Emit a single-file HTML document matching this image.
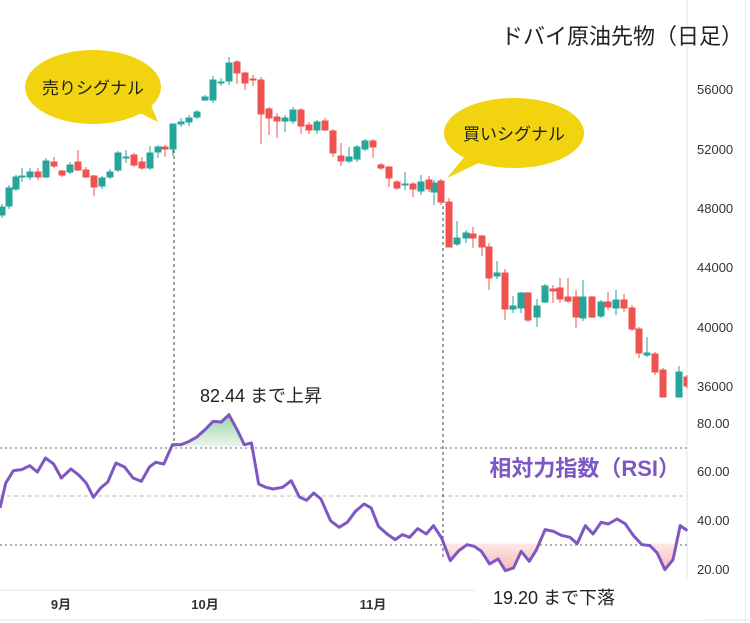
<!DOCTYPE html>
<html><head><meta charset="utf-8"><style>
html,body{margin:0;padding:0;background:#fff;}
svg{display:block;font-family:"Liberation Sans","Noto Sans CJK JP",sans-serif;}
</style></head><body>
<svg width="750" height="623" viewBox="0 0 750 623" xmlns="http://www.w3.org/2000/svg">
<rect width="750" height="623" fill="#fff"/>
<line x1="687" y1="0" x2="687" y2="590" stroke="#e6e6e6"/>
<line x1="745" y1="0" x2="745" y2="623" stroke="#eee"/>
<line x1="0" y1="590" x2="687" y2="590" stroke="#e6e6e6"/>
<line x1="0" y1="620" x2="750" y2="620" stroke="#e6e6e6"/>
<line x1="0" y1="448" x2="687" y2="448" stroke="#666" stroke-dasharray="2,3"/>
<line x1="0" y1="496" x2="687" y2="496" stroke="#bbb" stroke-dasharray="4,3"/>
<line x1="0" y1="545" x2="687" y2="545" stroke="#666" stroke-dasharray="2,3"/>
<line x1="174" y1="150" x2="174" y2="448" stroke="#444" stroke-dasharray="3,3"/>
<line x1="443" y1="200" x2="443" y2="560" stroke="#444" stroke-dasharray="3,3"/>
<g stroke-width="1">
<g fill="#26a69a" stroke="#26a69a">
<line x1="2" y1="204" x2="2" y2="218"/><rect x="-1" y="207" width="6" height="8"/>
<line x1="9" y1="185" x2="9" y2="209"/><rect x="6" y="188" width="6" height="18"/>
<line x1="16" y1="175" x2="16" y2="191"/><rect x="13" y="177" width="6" height="12"/>
<line x1="22" y1="168" x2="22" y2="182"/><rect x="19" y="176" width="6" height="1"/>
<line x1="30" y1="168" x2="30" y2="180"/><rect x="27" y="172" width="6" height="5"/>
<line x1="46" y1="158" x2="46" y2="178"/><rect x="43" y="161" width="6" height="16"/>
<line x1="70" y1="162" x2="70" y2="174"/><rect x="67" y="165" width="6" height="7"/>
<line x1="102" y1="176" x2="102" y2="189"/><rect x="99" y="178" width="6" height="8"/>
<line x1="110" y1="169" x2="110" y2="179"/><rect x="107" y="172" width="6" height="5"/>
<line x1="118" y1="151" x2="118" y2="172"/><rect x="115" y="153" width="6" height="17"/>
<line x1="126" y1="150" x2="126" y2="163"/><rect x="123" y="157" width="6" height="1"/>
<line x1="150" y1="146" x2="150" y2="170"/><rect x="147" y="153" width="6" height="15"/>
<line x1="158" y1="145" x2="158" y2="158"/><rect x="155" y="147" width="6" height="5"/>
<line x1="173" y1="124" x2="173" y2="156"/><rect x="170" y="124" width="6" height="25"/>
<line x1="181" y1="118" x2="181" y2="127"/><rect x="178" y="122" width="6" height="2"/>
<line x1="189" y1="115" x2="189" y2="126"/><rect x="186" y="118" width="6" height="4"/>
<line x1="197" y1="110" x2="197" y2="119"/><rect x="194" y="112" width="6" height="5"/>
<line x1="205" y1="95" x2="205" y2="101"/><rect x="202" y="97" width="6" height="3"/>
<line x1="213" y1="76" x2="213" y2="103"/><rect x="210" y="80" width="6" height="20"/>
<line x1="221" y1="78" x2="221" y2="86"/><rect x="218" y="82" width="6" height="1"/>
<line x1="229" y1="57" x2="229" y2="85"/><rect x="226" y="63" width="6" height="18"/>
<line x1="285" y1="115" x2="285" y2="132"/><rect x="282" y="118" width="6" height="3"/>
<line x1="293" y1="107" x2="293" y2="124"/><rect x="290" y="110" width="6" height="11"/>
<line x1="317" y1="120" x2="317" y2="134"/><rect x="314" y="122" width="6" height="8"/>
<line x1="349" y1="147" x2="349" y2="163"/><rect x="346" y="157" width="6" height="4"/>
<line x1="357" y1="145" x2="357" y2="162"/><rect x="354" y="147" width="6" height="12"/>
<line x1="365" y1="139" x2="365" y2="151"/><rect x="362" y="141" width="6" height="8"/>
<line x1="405" y1="172" x2="405" y2="190"/><rect x="402" y="184" width="6" height="1"/>
<line x1="421" y1="175" x2="421" y2="195"/><rect x="418" y="182" width="6" height="9"/>
<line x1="434" y1="180" x2="434" y2="205"/><rect x="431" y="183" width="6" height="9"/>
<line x1="457" y1="221" x2="457" y2="246"/><rect x="454" y="238" width="6" height="6"/>
<line x1="466" y1="230" x2="466" y2="243"/><rect x="463" y="233" width="6" height="5"/>
<line x1="497" y1="261" x2="497" y2="279"/><rect x="494" y="273" width="6" height="3"/>
<line x1="513" y1="296" x2="513" y2="313"/><rect x="510" y="306" width="6" height="3"/>
<line x1="521" y1="292" x2="521" y2="313"/><rect x="518" y="293" width="6" height="15"/>
<line x1="537" y1="299" x2="537" y2="327"/><rect x="534" y="306" width="6" height="11"/>
<line x1="545" y1="284" x2="545" y2="303"/><rect x="542" y="286" width="6" height="16"/>
<line x1="583" y1="280" x2="583" y2="321"/><rect x="580" y="297" width="6" height="21"/>
<line x1="601" y1="300" x2="601" y2="318"/><rect x="598" y="302" width="6" height="14"/>
<line x1="616" y1="290" x2="616" y2="315"/><rect x="613" y="300" width="6" height="8"/>
<line x1="647" y1="337" x2="647" y2="357"/><rect x="644" y="353" width="6" height="2"/>
<line x1="679" y1="366" x2="679" y2="397"/><rect x="676" y="372" width="6" height="25"/>
</g>
<g fill="#ef5350" stroke="#ef5350">
<line x1="38" y1="168" x2="38" y2="180"/><rect x="35" y="172" width="6" height="5"/>
<line x1="54" y1="157" x2="54" y2="168"/><rect x="51" y="162" width="6" height="4"/>
<line x1="62" y1="170" x2="62" y2="177"/><rect x="59" y="171" width="6" height="4"/>
<line x1="78" y1="150" x2="78" y2="171"/><rect x="75" y="162" width="6" height="8"/>
<line x1="86" y1="167" x2="86" y2="178"/><rect x="83" y="170" width="6" height="7"/>
<line x1="94" y1="175" x2="94" y2="196"/><rect x="91" y="176" width="6" height="11"/>
<line x1="134" y1="153" x2="134" y2="167"/><rect x="131" y="155" width="6" height="10"/>
<line x1="142" y1="157" x2="142" y2="170"/><rect x="139" y="162" width="6" height="6"/>
<line x1="165" y1="145" x2="165" y2="157"/><rect x="162" y="147" width="6" height="2"/>
<line x1="237" y1="60" x2="237" y2="84"/><rect x="234" y="62" width="6" height="11"/>
<line x1="245" y1="72" x2="245" y2="90"/><rect x="242" y="73" width="6" height="10"/>
<line x1="253" y1="75" x2="253" y2="86"/><rect x="250" y="79" width="6" height="1"/>
<line x1="261" y1="77" x2="261" y2="144"/><rect x="258" y="80" width="6" height="34"/>
<line x1="269" y1="107" x2="269" y2="135"/><rect x="266" y="109" width="6" height="9"/>
<line x1="277" y1="113" x2="277" y2="138"/><rect x="274" y="117" width="6" height="4"/>
<line x1="301" y1="108" x2="301" y2="134"/><rect x="298" y="110" width="6" height="16"/>
<line x1="309" y1="122" x2="309" y2="134"/><rect x="306" y="125" width="6" height="5"/>
<line x1="325" y1="118" x2="325" y2="131"/><rect x="322" y="121" width="6" height="9"/>
<line x1="333" y1="129" x2="333" y2="157"/><rect x="330" y="131" width="6" height="22"/>
<line x1="341" y1="143" x2="341" y2="166"/><rect x="338" y="156" width="6" height="5"/>
<line x1="373" y1="139" x2="373" y2="158"/><rect x="370" y="141" width="6" height="6"/>
<line x1="381" y1="163" x2="381" y2="170"/><rect x="378" y="165" width="6" height="3"/>
<line x1="389" y1="166" x2="389" y2="187"/><rect x="386" y="167" width="6" height="11"/>
<line x1="397" y1="180" x2="397" y2="190"/><rect x="394" y="182" width="6" height="6"/>
<line x1="413" y1="182" x2="413" y2="197"/><rect x="410" y="184" width="6" height="5"/>
<line x1="429" y1="176" x2="429" y2="192"/><rect x="426" y="180" width="6" height="9"/>
<line x1="441" y1="179" x2="441" y2="205"/><rect x="438" y="181" width="6" height="21"/>
<line x1="449" y1="198" x2="449" y2="247"/><rect x="446" y="202" width="6" height="45"/>
<line x1="473" y1="227" x2="473" y2="248"/><rect x="470" y="234" width="6" height="4"/>
<line x1="482" y1="235" x2="482" y2="256"/><rect x="479" y="236" width="6" height="11"/>
<line x1="489" y1="243" x2="489" y2="290"/><rect x="486" y="247" width="6" height="31"/>
<line x1="505" y1="269" x2="505" y2="320"/><rect x="502" y="273" width="6" height="36"/>
<line x1="528" y1="292" x2="528" y2="322"/><rect x="525" y="293" width="6" height="27"/>
<line x1="553" y1="285" x2="553" y2="303"/><rect x="550" y="289" width="6" height="2"/>
<line x1="560" y1="278" x2="560" y2="303"/><rect x="557" y="288" width="6" height="11"/>
<line x1="568" y1="278" x2="568" y2="303"/><rect x="565" y="297" width="6" height="4"/>
<line x1="576" y1="290" x2="576" y2="328"/><rect x="573" y="297" width="6" height="20"/>
<line x1="592" y1="296" x2="592" y2="318"/><rect x="589" y="297" width="6" height="20"/>
<line x1="608" y1="292" x2="608" y2="310"/><rect x="605" y="302" width="6" height="5"/>
<line x1="624" y1="294" x2="624" y2="312"/><rect x="621" y="300" width="6" height="8"/>
<line x1="632" y1="305" x2="632" y2="331"/><rect x="629" y="308" width="6" height="21"/>
<line x1="639" y1="327" x2="639" y2="358"/><rect x="636" y="329" width="6" height="24"/>
<line x1="655" y1="352" x2="655" y2="375"/><rect x="652" y="354" width="6" height="18"/>
<line x1="663" y1="368" x2="663" y2="397"/><rect x="660" y="370" width="6" height="27"/>
<line x1="687" y1="375" x2="687" y2="388"/><rect x="684" y="377" width="3" height="9"/>
</g>
</g>
<defs>
<linearGradient id="gg" x1="0" y1="0" x2="0" y2="1"><stop offset="0" stop-color="#9fd3a8"/><stop offset="1" stop-color="#eaf6ec"/></linearGradient>
<linearGradient id="rg" x1="0" y1="0" x2="0" y2="1"><stop offset="0" stop-color="#fde8e8"/><stop offset="1" stop-color="#f6b7b7"/></linearGradient>
</defs>
<g transform="translate(0,398) scale(0.479,0.3333)">
<polygon points="360,145 378,140 395,130 410,118 428,95 445,70 462,72 478,50 495,95 512,145" fill="url(#gg)"/>
<polygon points="925,437 940,488 958,458 975,440 990,445 1005,460 1022,498 1040,483 1055,518 1072,510 1088,460 1105,490 1120,455 1128,437 1335,437 1340,440 1357,443 1372,465 1388,515 1405,485 1412,437" fill="url(#rg)"/>
<polyline fill="none" stroke="#7e57c2" stroke-width="3" vector-effect="non-scaling-stroke" stroke-linejoin="round" points="0,330 12,255 28,218 45,215 62,203 78,222 95,180 112,198 128,240 148,213 165,232 180,255 195,298 210,270 225,252 242,195 260,207 278,240 295,250 312,207 325,193 342,198 360,140 378,140 395,130 410,118 428,95 445,70 462,72 478,50 495,95 510,140 525,135 540,258 555,268 570,273 590,268 608,248 625,297 640,307 655,285 670,303 690,368 708,388 725,373 742,340 760,318 775,330 790,385 808,408 825,425 840,410 855,418 872,392 890,408 905,383 922,420 940,488 958,458 975,440 990,445 1005,460 1022,498 1040,483 1055,518 1072,510 1088,460 1105,490 1120,455 1138,395 1155,400 1172,412 1190,418 1205,437 1222,383 1238,408 1255,373 1270,378 1288,363 1305,377 1322,412 1340,440 1357,443 1372,465 1388,515 1405,485 1420,383 1435,398"/>
</g>
<g font-size="13" fill="#333">
<text x="697" y="94">56000</text>
<text x="697" y="154">52000</text>
<text x="697" y="213">48000</text>
<text x="697" y="272">44000</text>
<text x="697" y="332">40000</text>
<text x="697" y="391">36000</text>
<text x="697" y="428">80.00</text>
<text x="697" y="476">60.00</text>
<text x="697" y="525">40.00</text>
<text x="697" y="574">20.00</text>
</g>
<g font-size="13" fill="#333" font-weight="bold" text-anchor="middle">
<text x="61" y="609">9月</text>
<text x="205" y="609">10月</text>
<text x="373" y="609">11月</text>
</g>
<rect x="475" y="578" width="228" height="42" fill="#fff"/>
<path d="M130,108 L158,122 L148,98 Z" fill="#f2d30f"/>
<ellipse cx="93" cy="87" rx="68" ry="37" fill="#f2d30f"/>
<text x="93" y="94" font-size="17" text-anchor="middle" fill="#222">売りシグナル</text>
<path d="M470,150 L447,178 L485,160 Z" fill="#f2d30f"/>
<ellipse cx="514" cy="133" rx="70" ry="35" fill="#f2d30f"/>
<text x="514" y="140" font-size="17" text-anchor="middle" fill="#222">買いシグナル</text>
<text x="743" y="44" font-size="22" text-anchor="end" fill="#222">ドバイ原油先物（日足）</text>
<text x="200" y="402" font-size="18" fill="#222">82.44 まで上昇</text>
<text x="493" y="604" font-size="18" fill="#222">19.20 まで下落</text>
<text x="680" y="476" font-size="22" font-weight="bold" text-anchor="end" fill="#7e57c2">相対力指数（RSI）</text>
</svg>
</body></html>
